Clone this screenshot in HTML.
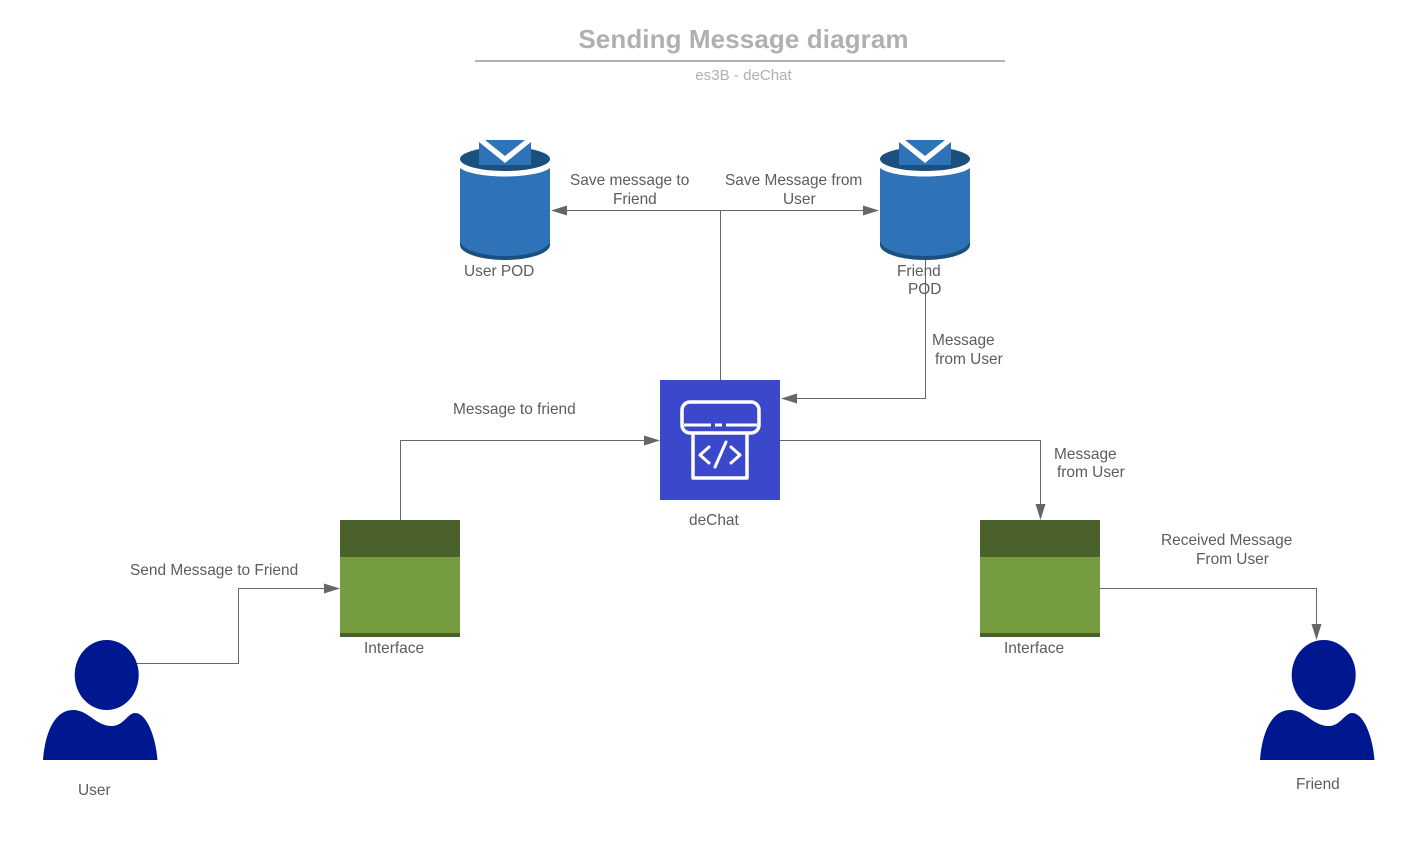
<!DOCTYPE html>
<html>
<head>
<meta charset="utf-8">
<style>
html,body{margin:0;padding:0;background:#fff;width:1427px;height:844px;overflow:hidden}
svg{display:block}
text{font-family:"Liberation Sans",sans-serif;font-size:15.450px;fill:#5c5c5c}
</style>
</head>
<body>
<svg width="1427" height="844" viewBox="0 0 1427 844" xmlns="http://www.w3.org/2000/svg">
<defs>
<g id="pod">
  <path d="M0 22V105C0 113 20 120 45 120S90 113 90 105V22Z" fill="#1b4f7d"/>
  <path d="M0 28V100C0 109 20 116 45 116S90 109 90 100V28C84 33 66 36.500 45 36.500S6 33 0 28Z" fill="#2e73b8"/>
  <path d="M0 20H90V28C84 33 66 36.500 45 36.500S6 33 0 28Z" fill="#fff"/>
  <ellipse cx="45" cy="19" rx="45" ry="12" fill="#1b4f7d"/>
  <rect x="19" y="0" width="52" height="25" fill="#2e73b8"/>
  <path d="M19 0H25L45 16L65 0H71V2L45 23L19 2Z" fill="#fff"/>
</g>
<g id="iface">
  <rect width="120" height="117" fill="#759c3e"/>
  <rect width="120" height="37" fill="#4b612c"/>
  <rect y="113" width="120" height="4" fill="#4b612c"/>
</g>
<g id="person" fill="#00188f">
  <ellipse cx="63.700" cy="35" rx="32" ry="35"/>
  <path d="M0 120C2 92 12 70 30 70C46 70 52 86 69 86C80 86 85 73 92 73C104 73 113 98 114.500 120Z"/>
</g>
</defs>

<text x="743.500" y="48" text-anchor="middle" style="font-size:26px;letter-spacing:.1px;font-weight:bold;fill:#b0b0b0">Sending Message diagram</text>
<rect x="475" y="60" width="530" height="2" fill="#b0b0b0"/>
<text x="743.500" y="80" text-anchor="middle" style="font-size:15.100px;fill:#b0b0b0">es3B - deChat</text>

<g fill="none" stroke="#666" stroke-width="1">
  <path d="M720.500 380V210.500H561"/>
  <path d="M720.500 210.500H869"/>
  <path d="M925.500 258V398.500H791"/>
  <path d="M400.500 520V440.500H649"/>
  <path d="M780 440.500H1040.500V509"/>
  <path d="M136 663.500H238.500V588.500H329"/>
  <path d="M1100 588.500H1316.500V629"/>
</g>
<g fill="#666">
  <path d="M551 210.500L567 205.500V215.500Z"/>
  <path d="M879 210.500L863 205.500V215.500Z"/>
  <path d="M781 398.500L797 393.500V403.500Z"/>
  <path d="M660 440.500L644 435.500V445.500Z"/>
  <path d="M1040.500 520L1035.500 504H1045.500Z"/>
  <path d="M340 588.500L324 583.500V593.500Z"/>
  <path d="M1316.500 640L1311.500 624H1321.500Z"/>
</g>

<use href="#pod" x="460" y="140"/>
<use href="#pod" x="880" y="140"/>

<rect x="660" y="380" width="120" height="120" fill="#3c48cc"/>
<g fill="none" stroke="#fff" stroke-width="3.500" stroke-linejoin="round">
  <rect x="682" y="402" width="77" height="31" rx="8"/>
  <path d="M684 425H711M715 425H722M726 425H757" stroke-width="3"/>
  <path d="M693 434V478H747V434"/>
  <path d="M709 447L700 455L709 463M731 447L740 455L731 463M726 442L715 467" stroke-width="3" stroke-linecap="round"/>
</g>

<use href="#iface" x="340" y="520"/>
<use href="#iface" x="980" y="520"/>
<use href="#person" x="43" y="640"/>
<use href="#person" x="1260" y="640"/>

<text x="570" y="185">Save message to</text>
<text x="613" y="204">Friend</text>
<text x="725" y="185">Save Message from</text>
<text x="783" y="204">User</text>
<text x="464" y="276">User POD</text>
<text x="897" y="276">Friend</text>
<text x="908" y="294">POD</text>
<text x="932" y="345">Message</text>
<text x="935" y="364">from User</text>
<text x="453" y="414">Message to friend</text>
<text x="1054" y="459">Message</text>
<text x="1057" y="477">from User</text>
<text x="689" y="525">deChat</text>
<text x="1161" y="545">Received Message</text>
<text x="1196" y="564">From User</text>
<text x="130" y="575">Send Message to Friend</text>
<text x="364" y="653">Interface</text>
<text x="1004" y="653">Interface</text>
<text x="78" y="795">User</text>
<text x="1296" y="789">Friend</text>
</svg>
</body>
</html>
